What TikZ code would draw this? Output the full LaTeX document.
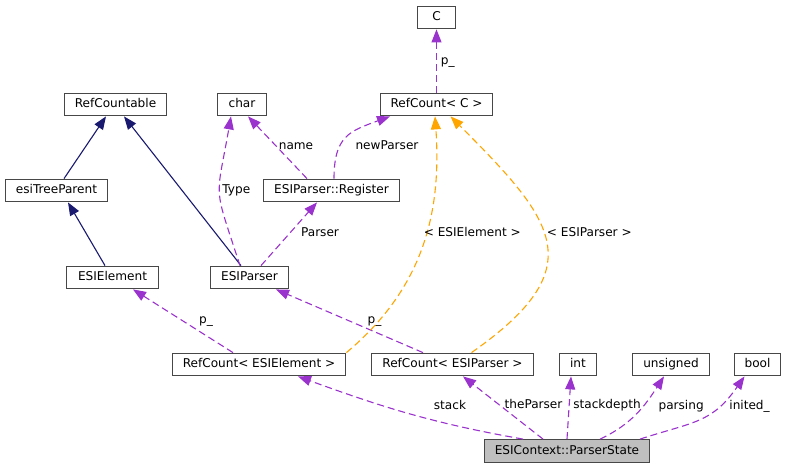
\documentclass[tikz,border=0pt]{standalone}
\usepackage{fontspec}
\setmainfont{DejaVu Sans}
\usetikzlibrary{arrows.meta}
\definecolor{usecol}{HTML}{9A32CD}
\definecolor{tmplcol}{HTML}{FFA500}
\definecolor{inhcol}{HTML}{191970}
\definecolor{selfcol}{HTML}{BFBFBF}

\begin{document}
\begin{tikzpicture}[x=1pt,y=1pt,
    font=\fontsize{12.1}{14}\selectfont,
    cls/.style={draw=black!72, fill=white, line width=1.3pt, inner xsep=6pt, inner ysep=0pt,
        minimum height=22.5pt, text height=8.7pt, text depth=2.4pt},
    inh/.style={draw=inhcol, line width=1.1pt, -{Triangle[length=13pt,width=10pt]}},
    use/.style={draw=usecol, line width=1.1pt, dash pattern=on 7pt off 4pt,
        -{Triangle[length=13pt,width=10pt]}},
    tmpl/.style={use, draw=tmplcol},
    lbl/.style={inner sep=0pt, text height=8.7pt, text depth=2.4pt, text=black}]
    \useasboundingbox (0,0) rectangle (787,-469);

    \node[cls, minimum width=37.5pt] (c) at (436.5,-17.5) {C};
    \node[cls, minimum width=101.5pt] (rcable) at (115.5,-104.5) {RefCountable};
    \node[cls, minimum width=48.5pt] (chr) at (242,-104.5) {char};
    \node[cls, minimum width=111.5pt] (rcc) at (436.5,-104.5) {RefCount< C >};

    \node[cls, minimum width=101.5pt] (tree) at (56.5,-190.5) {esiTreeParent};
    \node[cls, minimum width=135.5pt] (reg) at (331.5,-190.5) {ESIParser::Register};

    \node[cls, minimum width=91.5pt] (elem) at (112.5,-277.5) {ESIElement};
    \node[cls, minimum width=77.5pt] (parser) at (249.5,-277.5) {ESIParser};

    \node[cls, minimum width=173.5pt] (rcelem) at (259,-364.5) {RefCount< ESIElement >};
    \node[cls, minimum width=161.5pt] (rcparser) at (452.5,-364.5) {RefCount< ESIParser >};
    \node[cls, minimum width=37.5pt] (int) at (578,-364.5) {int};
    \node[cls, minimum width=77.5pt] (unsigned) at (671,-364.5) {unsigned};
    \node[cls, minimum width=45.5pt] (bool) at (757.5,-364.5) {bool};

    \node[cls, fill=selfcol, minimum width=164.5pt] (state) at (567,-451) {ESIContext::ParserState};

    % base classes
    \draw[inh] ([xshift=7.5pt]tree.north) -- ([xshift=-9.5pt]rcable.south);
    \draw[inh] ([xshift=-8.5pt]parser.north) -- ([xshift=8.5pt]rcable.south);
    \draw[inh] ([xshift=-7.5pt]elem.north) -- ([xshift=11.5pt]tree.south);

    % members
    \draw[use] ([xshift=-9.5pt]parser.north) to[out=108,in=-100,looseness=1.5]
        node[lbl,pos=0.5,xshift=16.7pt,yshift=2pt] {Type} ([xshift=-11pt]chr.south);
    \draw[use] ([xshift=-24.5pt]reg.north) --
        node[lbl,pos=0.5,xshift=18.5pt,yshift=1pt] {name} ([xshift=6pt]chr.south);
    \draw[use] ([xshift=2.5pt]reg.north) to[out=90,in=-160,looseness=1.3]
        node[lbl,pos=0.5,xshift=40pt,yshift=-9.5pt] {newParser} ([xshift=-46.5pt]rcc.south);
    \draw[use] ([xshift=11.5pt]parser.north) --
        node[lbl,pos=0.5,xshift=31pt,yshift=1pt] {Parser} ([xshift=-14.5pt]reg.south);
    \draw[use] (rcc.north) -- node[lbl,pos=0.5,xshift=11.3pt] {p\_} (c.south);
    \draw[use] ([xshift=-26pt]rcelem.north) --
        node[lbl,pos=0.5,xshift=23pt,yshift=0.5pt] {p\_} ([xshift=20.5pt]elem.south);
    \draw[use] ([xshift=-29.5pt]rcparser.north) --
        node[lbl,pos=0.5,xshift=25pt,yshift=0.5pt] {p\_} ([xshift=26.5pt]parser.south);

    % template arguments
    \draw[tmpl] (rcelem.north east) to[out=40,in=-86]
        node[lbl,pos=0.5,xshift=50.7pt,yshift=14.6pt] {< ESIElement >} ([xshift=-1.5pt]rcc.south);
    \draw[tmpl] ([xshift=19pt]rcparser.north) to[out=35,in=-45,looseness=1.6]
        node[lbl,pos=0.5,xshift=43.3pt,yshift=8.9pt] {< ESIParser >} ([xshift=14pt]rcc.south);

    % ParserState members
    \draw[use] ([xshift=-44pt]state.north) to[out=170,in=-20]
        node[lbl,pos=0.5,xshift=41pt,yshift=7pt] {stack} ([xshift=39pt]rcelem.south);
    \draw[use] ([xshift=-24pt]state.north) --
        node[lbl,pos=0.5,xshift=30.5pt,yshift=2pt] {theParser} ([xshift=10.5pt]rcparser.south);
    \draw[use] (state.north) --
        node[lbl,pos=0.5,xshift=38pt,yshift=2pt] {stackdepth} ([xshift=-7pt]int.south);
    \draw[use] ([xshift=33pt]state.north) to[out=25,in=-123]
        node[lbl,pos=0.5,xshift=44.4pt,yshift=7.3pt] {parsing} ([xshift=-7pt]unsigned.south);
    \draw[use] ([xshift=73pt]state.north) to[out=18,in=-125,looseness=1.2]
        node[lbl,pos=0.5,xshift=49.2pt,yshift=12.5pt] {inited\_} ([xshift=-13pt]bool.south);

\end{tikzpicture}
\end{document}
